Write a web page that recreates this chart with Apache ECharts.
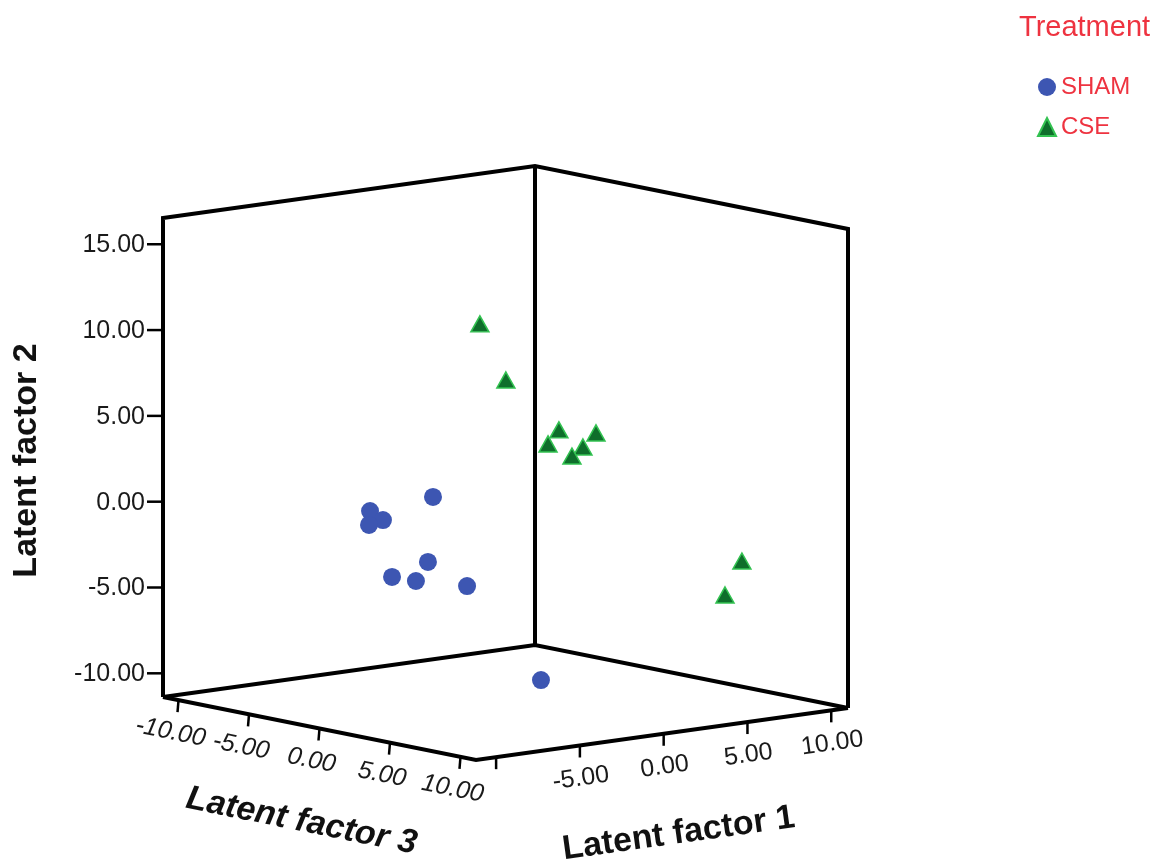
<!DOCTYPE html>
<html><head><meta charset="utf-8">
<script src="https://cdn.jsdelivr.net/npm/echarts@6/dist/echarts.min.js"></script>
<style>html,body{margin:0;padding:0;background:#fff}#c{width:1157px;height:861px}</style>
</head><body><div id="c"></div>
<script>
// ---- data (Latent factor 1, 2, 3 per observation) ----
const shamF1 = [-6.11, -5.66, -5.73, -4.88, -5.57, -6.03, -7.97, -5.76, -2.19];
const shamF2 = [1.75, 0.04, -0.31, -1.04, -2.28, -3.42, -2.73, -3.16, -8.96];
const shamF3 = [2, -3, -2, -4, 1, -1, 3, 4, 5];
const cseF1 = [3.42, 4.13, 4.77, 3.28, 5.30, 3.68, 6.39, 8.96, 7.11];
const cseF2 = [9.21, 6.01, 3.51, 3.06, 3.59, 3.16, 1.60, -3.38, -4.94];
const cseF3 = [-6, -5, -2, -1, 0, 1, -3, 6, 7];
const f1Ticks = [-10, -5, 0, 5, 10];
const f1TickLabels = ['', '-5.00', '0.00', '5.00', '10.00'];
const f2Ticks = [-10, -5, 0, 5, 10, 15];
const f2TickLabels = ['-10.00', '-5.00', '0.00', '5.00', '10.00', '15.00'];
const f3Ticks = [-10, -5, 0, 5, 10];
const f3TickLabels = ['-10.00', '-5.00', '0.00', '5.00', '10.00'];
const f1Range = [-11.2, 11.0];
const f2Range = [-11.38, 16.53];
const f3Range = [-11.1, 11.1];

// ---- oblique 3D projection (layout) ----
const ORIGIN = [163, 697], E1 = [372, -52], E3 = [313, 63], E2 = [0, -479];
function proj(f1, f2, f3) {
  const u = (f1 - f1Range[0]) / (f1Range[1] - f1Range[0]);
  const w = (f3 - f3Range[0]) / (f3Range[1] - f3Range[0]);
  const v = (f2 - f2Range[0]) / (f2Range[1] - f2Range[0]);
  return [ORIGIN[0] + u * E1[0] + w * E3[0] + v * E2[0],
          ORIGIN[1] + u * E1[1] + w * E3[1] + v * E2[1]];
}
const FONT = "'Liberation Sans', Arial, sans-serif";
const ROT3 = -Math.atan2(E3[1], E3[0]);
const ROT1 = -Math.atan2(E1[1], E1[0]);

function renderFrame(params, api) {
  const a = f1Range[0], A = f1Range[1], b = f2Range[0], B = f2Range[1], c = f3Range[0], C = f3Range[1];
  const P = (x, y, z) => api.coord(proj(x, y, z));
  const L = P(a, b, c), TL = P(a, B, c), BK = P(A, b, c), TB = P(A, B, c), R = P(A, b, C), TR = P(A, B, C), F = P(a, b, C);
  const ls = { stroke: '#000', lineWidth: 4, fill: null, lineJoin: 'miter' };
  const ch = [
    { type: 'polyline', shape: { points: [L, TL, TB, TR, R] }, style: ls },
    { type: 'polyline', shape: { points: [TB, BK] }, style: ls },
    { type: 'polyline', shape: { points: [L, BK, R] }, style: ls },
    { type: 'polyline', shape: { points: [L, F, R] }, style: ls }
  ];
  const ts = { stroke: '#000', lineWidth: 2.5 };
  f2Ticks.forEach((t, i) => {
    const p = P(a, t, c);
    ch.push({ type: 'line', shape: { x1: p[0] - 16, y1: p[1], x2: p[0], y2: p[1] }, style: ts });
    ch.push({ type: 'text', x: p[0] - 18, y: p[1] + 1, style: { text: f2TickLabels[i], fill: '#1a1a1a', font: '25px ' + FONT, align: 'right', verticalAlign: 'middle' } });
  });
  f3Ticks.forEach((t, i) => {
    const p = P(a, b, t);
    ch.push({ type: 'line', shape: { x1: p[0], y1: p[1], x2: p[0] - 1, y2: p[1] + 12 }, style: ts });
    ch.push({ type: 'text', x: p[0] - 8, y: p[1] + 32, rotation: ROT3, style: { text: f3TickLabels[i], fill: '#1a1a1a', font: 'italic 25px ' + FONT, align: 'center', verticalAlign: 'middle' } });
  });
  f1Ticks.forEach((t, i) => {
    const p = P(t, b, C);
    ch.push({ type: 'line', shape: { x1: p[0], y1: p[1], x2: p[0], y2: p[1] + 12 }, style: ts });
    if (f1TickLabels[i]) ch.push({ type: 'text', x: p[0] + 1, y: p[1] + 33, rotation: ROT1, style: { text: f1TickLabels[i], fill: '#1a1a1a', font: '25px ' + FONT, align: 'center', verticalAlign: 'middle' } });
  });
  // axis titles
  const m3 = P(a, b, 0), m1 = P(0, b, C), m2 = P(a, (b + B) / 2, c);
  ch.push({ type: 'text', x: m3[0] - 18, y: m3[1] + 93, rotation: ROT3, style: { text: 'Latent factor 3', fill: '#111', font: 'italic bold 34px ' + FONT, align: 'center', verticalAlign: 'middle' } });
  ch.push({ type: 'text', x: m1[0] + 15, y: m1[1] + 100, rotation: ROT1, style: { text: 'Latent factor 1', fill: '#111', font: 'bold 34px ' + FONT, align: 'center', verticalAlign: 'middle' } });
  ch.push({ type: 'text', x: m2[0] - 136, y: m2[1] + 3, rotation: Math.PI / 2, style: { text: 'Latent factor 2', fill: '#111', font: 'bold 34px ' + FONT, align: 'center', verticalAlign: 'middle' } });
  return { type: 'group', children: ch };
}

const chart = echarts.init(document.getElementById('c'), null, { renderer: 'canvas' });
chart.setOption({
  animation: false,
  backgroundColor: '#fff',
  title: { text: 'Treatment', left: 1014, top: 8, textStyle: { fontSize: 29, fontWeight: 'normal', color: '#ee3340', fontFamily: FONT } },
  legend: {
    data: ['SHAM', 'CSE'], orient: 'vertical', left: 1032, top: 70, itemWidth: 18, itemHeight: 18, itemGap: 16,
    textStyle: { color: '#ee3340', fontSize: 24, fontFamily: FONT, lineHeight: 24 }
  },
  grid: { left: 0, right: 0, top: 0, bottom: 0 },
  xAxis: { type: 'value', min: 0, max: 1157, show: false },
  yAxis: { type: 'value', min: 0, max: 861, inverse: true, show: false },
  series: [
    { type: 'custom', name: 'frame', coordinateSystem: 'cartesian2d', silent: true, renderItem: renderFrame, data: [[0, 0]], z: 1 },
    { type: 'scatter', name: 'SHAM', symbol: 'circle', symbolSize: 18, z: 3,
      itemStyle: { color: '#3d56b2', opacity: 1 },
      data: shamF1.map((v, i) => proj(v, shamF2[i], shamF3[i])) },
    { type: 'scatter', name: 'CSE', symbol: 'triangle', symbolSize: [18, 16], z: 3,
      itemStyle: { color: '#0f6e2b', borderColor: '#33c251', borderWidth: 1.5, opacity: 1 },
      data: cseF1.map((v, i) => proj(v, cseF2[i], cseF3[i])) }
  ]
});
</script></body></html>
